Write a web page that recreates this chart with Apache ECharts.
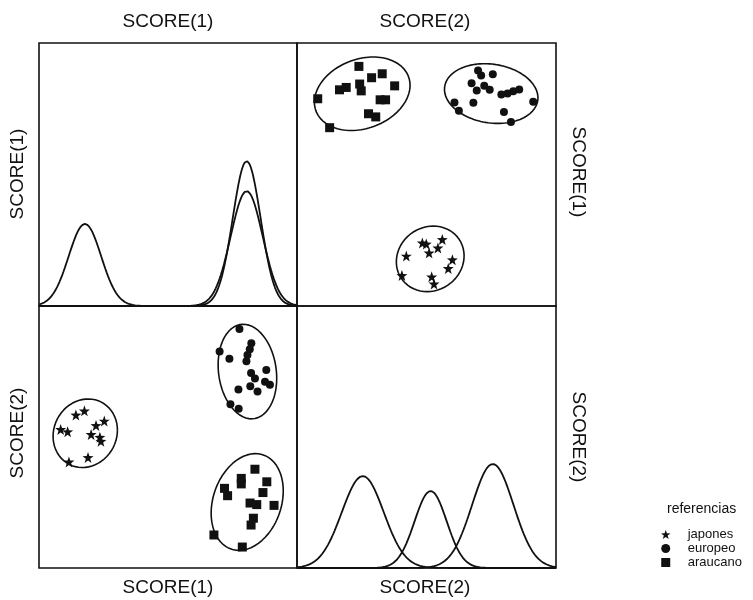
<!DOCTYPE html>
<html><head><meta charset="utf-8">
<script src="https://cdn.jsdelivr.net/npm/echarts@6/dist/echarts.min.js"></script>
<style>html,body{margin:0;padding:0;background:#fff}#c{width:753px;height:600px}</style>
</head><body><div id="c"></div>
<script>
// ---- data ----
const groups = ['japones', 'europeo', 'araucano'];
const axisLabel1 = 'SCORE(1)';
const axisLabel2 = 'SCORE(2)';
const legendTitle = 'referencias';

const japonesS1 = [-3.24, -3.57, -4.16, -3.89, -2.79, -2.47, -2.98, -2.64, -2.60, -3.10, -3.84];
const japonesS2 = [1.00, 0.84, 0.29, 0.20, 0.44, 0.61, 0.10, -0.01, -0.16, -0.78, -0.95];

const europeoS1 = [2.77, 2.00, 2.38, 3.23, 3.17, 3.08, 3.04, 3.22, 3.81, 3.37, 3.76, 3.95, 3.19, 3.47, 2.73, 2.42, 2.74];
const europeoS2 = [4.12, 3.26, 2.99, 3.58, 3.35, 3.13, 2.89, 2.44, 2.56, 2.23, 2.11, 1.99, 1.94, 1.74, 1.81, 1.25, 1.08];

const araucanoS1 = [3.37, 2.84, 3.83, 2.19, 2.31, 3.68, 3.18, 3.44, 4.11, 3.31, 3.22, 1.78, 2.88, 2.84];
const araucanoS2 = [-1.23, -1.58, -1.71, -1.96, -2.24, -2.12, -2.52, -2.58, -2.61, -3.10, -3.36, -3.74, -4.20, -1.79];

// density curves on the diagonal (order: japones, europeo, araucano)
const densS1Mean = [-3.22, 3.05, 3.05];
const densS1Sd   = [0.63, 0.54, 0.62];
const densS1Peak = [0.312, 0.551, 0.437];
const densS2Mean = [0.16, 2.56, -2.46];
const densS2Sd   = [0.62, 0.80, 0.81];
const densS2Peak = [0.294, 0.397, 0.351];

const ellipseK = 2.146; // 90% normal contour

// ---- build ----
const S1 = [japonesS1, europeoS1, araucanoS1];
const S2 = [japonesS2, europeoS2, araucanoS2];
const STAR = 'path://M0,-10L2.35,-3.24L9.51,-3.09L3.8,1.24L5.88,8.09L0,4L-5.88,8.09L-3.8,1.24L-9.51,-3.09L-2.35,-3.24Z';
const SQUARE = 'path://M0,0L10,0L10,10L0,10Z';
const symbols = [STAR, 'circle', SQUARE];
const symSizes = [11, 8, 9];
const INK = '#111';

function mean(a){ return a.reduce((s,v)=>s+v,0)/a.length; }
function ellipse(xs, ys){
  const mx = mean(xs), my = mean(ys), n = xs.length;
  let a=0,b=0,c=0;
  for(let i=0;i<n;i++){ const dx=xs[i]-mx, dy=ys[i]-my; a+=dx*dx; b+=dx*dy; c+=dy*dy; }
  a/=n-1; b/=n-1; c/=n-1;
  const l11 = Math.sqrt(a), l21 = b/l11, l22 = Math.sqrt(Math.max(c - l21*l21, 0));
  const pts = [];
  for(let i=0;i<=120;i++){
    const t = 2*Math.PI*i/120, ct=Math.cos(t), st=Math.sin(t);
    pts.push([mx + ellipseK*l11*ct, my + ellipseK*(l21*ct + l22*st)]);
  }
  return pts;
}
function density(m, sd, peak){
  const pts = [];
  for(let i=0;i<=400;i++){
    const x = -5 + 10*i/400;
    pts.push([x, peak*Math.exp(-0.5*((x-m)/sd)**2)]);
  }
  return pts;
}

const grids = [
  {left:39, top:43, width:258, height:263},
  {left:297, top:43, width:259, height:263},
  {left:39, top:306, width:258, height:262},
  {left:297, top:306, width:259, height:262}
].map(g => Object.assign(g, {show:true, borderColor:INK, borderWidth:1.6, backgroundColor:'transparent', containLabel:false}));

const hidden = {show:false};
function ax(gi, min, max){ return {type:'value', gridIndex:gi, min, max, axisLine:hidden, axisTick:hidden, axisLabel:hidden, splitLine:hidden}; }
const xAxis = [ax(0,-5,5), ax(1,-5,5), ax(2,-5,5), ax(3,-5,5)];
const yAxis = [ax(0,0,1), ax(1,-5,5), ax(2,-5,5), ax(3,0,1)];

const series = [];
for(let g=0; g<3; g++){
  // TR: x=S2, y=S1 ; BL: x=S1, y=S2
  series.push({name:groups[g], type:'scatter', xAxisIndex:1, yAxisIndex:1, symbol:symbols[g], symbolSize:symSizes[g],
    itemStyle:{color:INK, opacity:1}, emphasis:{disabled:true}, data:S2[g].map((v,i)=>[v, S1[g][i]])});
  series.push({name:groups[g], type:'scatter', xAxisIndex:2, yAxisIndex:2, symbol:symbols[g], symbolSize:symSizes[g],
    itemStyle:{color:INK, opacity:1}, emphasis:{disabled:true}, data:S1[g].map((v,i)=>[v, S2[g][i]])});
  const e = ellipse(S1[g], S2[g]);
  series.push({name:'e'+g, type:'line', xAxisIndex:2, yAxisIndex:2, showSymbol:false, silent:true,
    lineStyle:{color:INK, width:1.6}, data:e});
  series.push({name:'e'+g, type:'line', xAxisIndex:1, yAxisIndex:1, showSymbol:false, silent:true,
    lineStyle:{color:INK, width:1.6}, data:e.map(p=>[p[1],p[0]])});
  series.push({name:'d1'+g, type:'line', xAxisIndex:0, yAxisIndex:0, showSymbol:false, silent:true,
    lineStyle:{color:INK, width:1.8}, data:density(densS1Mean[g], densS1Sd[g], densS1Peak[g])});
  series.push({name:'d2'+g, type:'line', xAxisIndex:3, yAxisIndex:3, showSymbol:false, silent:true,
    lineStyle:{color:INK, width:1.8}, data:density(densS2Mean[g], densS2Sd[g], densS2Peak[g])});
}

const FONT = '19px "Liberation Sans", Arial, sans-serif';
function label(text, x, y, rot){
  return {type:'text', x, y, rotation:rot||0, style:{text, font:FONT, fill:INK, align:'center', verticalAlign:'middle'}};
}
const SMALL = '"Liberation Sans", Arial, sans-serif';

const option = {
  animation:false,
  backgroundColor:'#fff',
  grid:grids, xAxis, yAxis, series,
  title:{text:legendTitle, left:662, top:497, textStyle:{fontSize:14, fontWeight:'normal', color:INK, fontFamily:SMALL}},
  legend:{orient:'vertical', left:656, top:523, itemWidth:34, itemHeight:9, itemGap:1, selectedMode:false,
    textStyle:{fontSize:13, color:INK, fontFamily:SMALL},
    data:groups.map((n,i)=>({name:n, icon:symbols[i], itemStyle:{color:INK, opacity:1}}))},
  graphic:[
    label(axisLabel1, 168, 22), label(axisLabel2, 425, 22),
    label(axisLabel1, 168, 588), label(axisLabel2, 425, 588),
    label(axisLabel1, 18, 174, Math.PI/2), label(axisLabel2, 18, 433, Math.PI/2),
    label(axisLabel1, 578, 172, -Math.PI/2), label(axisLabel2, 578, 437, -Math.PI/2)
  ]
};
echarts.init(document.getElementById('c'), null, {renderer:'canvas'}).setOption(option);
</script></body></html>
